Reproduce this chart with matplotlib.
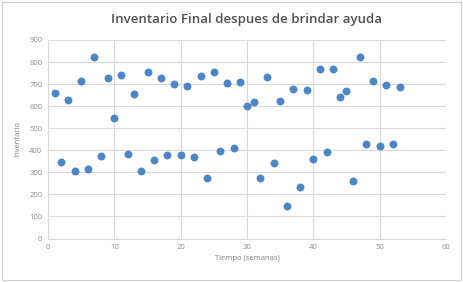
import matplotlib.pyplot as plt
import numpy as np

# semana e inventario final
semanas = list(range(1, 54))
inventario = [660, 348, 626, 306, 716, 315, 822, 375, 728, 547,
              740, 381, 656, 305, 757, 354, 727, 377, 701, 377,
              692, 368, 736, 276, 754, 398, 707, 409, 710, 600,
              618, 276, 733, 344, 623, 149, 676, 235, 673, 359,
              769, 394, 769, 643, 668, 260, 821, 428, 712, 421,
              697, 428, 688]

x_ticks = np.arange(0, 61, 10)
y_ticks = np.arange(0, 901, 100)

plt.rcParams['font.family'] = ['Open Sans', 'DejaVu Sans']

fig = plt.figure(figsize=(4.63, 2.82), dpi=100)
ax = fig.add_axes([48 / 463, 1 - 238.5 / 282, 398 / 463, 198.5 / 282])

# borde del area del grafico
border = plt.Rectangle((0.004, 0.006), 0.992, 0.988, transform=fig.transFigure,
                       fill=False, edgecolor='#d0d0d0', linewidth=0.8)
fig.patches.append(border)

ax.scatter(semanas, inventario, s=27, color='#4a86c8', zorder=3,
           edgecolors='#3f78b8', linewidths=0.4)

ax.set_xlim(0, 60)
ax.set_ylim(0, 900)
ax.set_xticks(x_ticks)
ax.set_yticks(y_ticks)
ax.grid(True, color='#d9d9d9', linewidth=0.8)
ax.set_axisbelow(True)
for s in ['top', 'right']:
    ax.spines[s].set_visible(False)
for s in ['left', 'bottom']:
    ax.spines[s].set_color('#d9d9d9')
    ax.spines[s].set_linewidth(0.8)
ax.tick_params(length=0, labelsize=5.5, colors='#8c8c8c', pad=4)

ax.set_title('Inventario Final despues de brindar ayuda', fontsize=9.5,
             color='#505050', fontweight='semibold', pad=12)
ax.set_xlabel('Tiempo (semanas)', fontsize=5.5, color='#7f7f7f', labelpad=3)
ax.set_ylabel('Inventario', fontsize=5.5, color='#7f7f7f', labelpad=6)

plt.savefig('out.png', dpi=100)
